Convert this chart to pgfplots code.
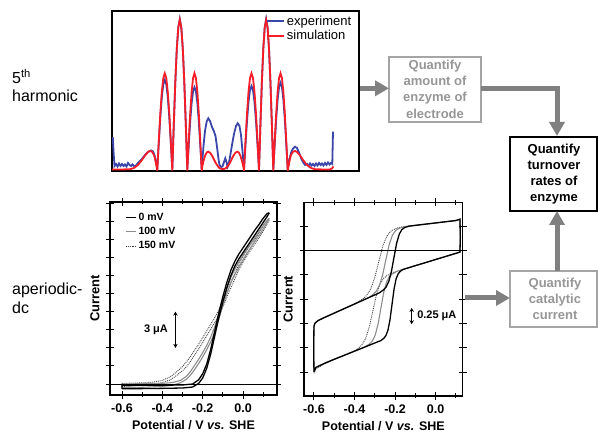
\documentclass[border=0pt]{standalone}
\usepackage{fontspec}
\setmainfont{Liberation Sans}
\usepackage{pgfplots}
\pgfplotsset{compat=1.18}
\usetikzlibrary{arrows.meta}
\definecolor{expblue}{RGB}{58,70,170}
\definecolor{simred}{RGB}{245,30,40}
\definecolor{arrowgray}{RGB}{128,128,128}
\definecolor{boxgray}{RGB}{165,165,165}
\definecolor{textgray}{RGB}{150,150,150}
\definecolor{curvegray}{RGB}{140,140,140}
\pgfplotsset{
  cvaxis/.style={
    scale only axis, anchor=south west,
    xtick={-0.6,-0.4,-0.2,0}, xticklabels={-0.6,-0.4,-0.2,0.0},
    minor xtick={-0.5,-0.3,-0.1,0.1},
    yticklabels={},
    tick align=center, major tick length=8pt, minor tick length=5pt,
    tick style={black, line width=0.9pt},
    axis line style={line width=1.1pt},
    xticklabel style={font=\bfseries\fontsize{12.5}{14}\selectfont, yshift=-1.5pt},
    xlabel={Potential / V \textit{vs.} SHE},
    xlabel style={font=\bfseries\fontsize{12.5}{15}\selectfont, at={(axis description cs:0.5,0)}, anchor=center, yshift=-30pt},
    ylabel={Current},
    ylabel style={font=\bfseries\fontsize{13}{15}\selectfont, anchor=center},
  },
  blackcv/.style={black, line width=1.3pt},
  graycv/.style={curvegray, line width=1.1pt},
  dotcv/.style={black!75, line width=0.9pt, densely dotted},
}
\begin{document}
\begin{tikzpicture}[x=1pt,y=1pt]
\useasboundingbox (0,0) rectangle (598,433);

% ---------- top: 5th harmonic ----------
\begin{axis}[at={(112pt,262pt)}, anchor=south west, scale only axis,
  width=247pt, height=160pt, xmin=0, xmax=247, ymin=0, ymax=160,
  ticks=none, axis line style={line width=1.6pt},
  legend style={draw=none, fill=none, at={(0.623,0.985)}, anchor=north west,
    font=\fontsize{13}{15}\selectfont, row sep=0pt, inner sep=0pt},
  legend cell align=left,
  legend image code/.code={\draw[#1] (0pt,0pt) -- (17pt,0pt);}]
\addplot[expblue, line width=1.8pt] coordinates {
(0.8,34) (1.5,20) (2.5,5) (4,7) (5.5,4.5) (7,7.5) (8.5,5) (10,7) (11.5,5) (13,6.5) (14.5,4.5) (16,8) (17.5,6) (19,5) (20.5,6.5) (22,5) (24,5.5) (26,8) (28,10) (30,12) (33,16) (36,19) (39,20.5) (41,19.5) (42.5,16) (44,9) (45.3,3)
(46.8,28.1) (48.3,53.5) (49.8,73.6) (51.3,86.5) (52.8,91) (54.3,86.5) (55.8,73.6) (57.3,53.5) (58.8,28.1) (60.3,2)
(61.8,46.7) (63.3,88.8) (64.8,122.2) (66.3,143.6) (67.8,152) (69.3,143.6) (70.8,122.2) (72.3,88.8) (73.8,46.7) (75.3,2)
(76.74,25.9) (78.18,49.2) (79.62,67.7) (81.06,79.6) (82.5,83.7) (83.94,79.6) (85.38,67.7) (86.82,49.2) (88.26,25.9) (89.7,2)
(90.5,12) (91.5,25) (93,40) (94.7,49.5) (96.3,52.7) (98,50) (100,44) (102,39.5) (103.5,35) (105,24) (106.5,12) (107.5,6) (109,4) (110.5,4.5) (112,9) (113.3,12.7) (114.5,9) (115.5,4)
(116.5,6) (118,14) (120,26) (122,37) (124,45) (125.7,47.7) (127.5,45) (129,36) (130.3,22) (131.3,10) (132,2)
(133.5,26.3) (135,50.0) (136.5,68.8) (138,80.8) (139.5,85) (141,80.8) (142.5,68.8) (144,50.0) (145.5,26.3) (147,2)
(148.43,46.7) (149.86,88.8) (151.29,122.2) (152.72,143.6) (154.15,152) (155.58,143.6) (157.01,122.2) (158.44,88.8) (159.87,46.7) (161.3,2)
(162.74,27.3) (164.18,51.9) (165.62,71.4) (167.06,84.0) (168.5,88.3) (169.94,84.0) (171.38,71.4) (172.82,51.9) (174.26,27.3) (175.7,2)
(176.5,6) (177.5,12) (179,18) (181,22.5) (183,24.3) (185,23) (187,18.5) (189,13) (191,9) (193,6) (195,7) (196.5,5) (198,7.5) (199.5,5.5) (201,7) (202.5,5) (204,7.5) (205.5,5.5) (207,8) (208.5,6) (210,7.5) (211.5,5.5) (213,8) (214.5,6) (216,8.5) (217.5,6.5) (219,8) (220.3,7) (221,39.3)
};
\addlegendentry{experiment}
\addplot[simred, line width=1.8pt] coordinates {
(0,1.5) (10,1.5) (18,1.8) (22,3) (26,6) (30,11) (33,15.5) (36,19) (38,20) (40,19.3) (42,16) (43.5,10) (44.6,4) (45.3,0.5)
(46.8,30.2) (48.3,57.4) (49.8,79.0) (51.3,92.9) (52.8,97.7) (54.3,92.9) (55.8,79.0) (57.3,57.4) (58.8,30.2) (60.3,0.5)
(61.8,46.7) (63.3,88.8) (64.8,122.2) (66.3,143.6) (67.8,151) (69.3,143.6) (70.8,122.2) (72.3,88.8) (73.8,46.7) (75.3,0.5)
(76.74,30.2) (78.18,57.4) (79.62,79.0) (81.06,92.9) (82.5,97.7) (83.94,92.9) (85.38,79.0) (86.82,57.4) (88.26,30.2) (89.7,0.5)
(90.4,5) (91.5,10) (93,15) (94.7,18.5) (96.3,19.3) (98,18.3) (100,15.5) (102,11.5) (104,7.5) (106,4.5) (108,2.5) (111,1.8)
(113.5,2.5) (115.5,4.5) (117.5,7.5) (119.5,11.5) (121.5,15.5) (123.5,18.3) (125.2,19.3) (126.8,18.5) (128.5,15) (130,10) (131.2,5) (132,0.5)
(133.5,30.2) (135,57.4) (136.5,79.0) (138,92.9) (139.5,97.7) (141,92.9) (142.5,79.0) (144,57.4) (145.5,30.2) (147,0.5)
(148.43,46.7) (149.86,88.8) (151.29,122.2) (152.72,143.6) (154.15,151) (155.58,143.6) (157.01,122.2) (158.44,88.8) (159.87,46.7) (161.3,0.5)
(162.74,30.2) (164.18,57.4) (165.62,79.0) (167.06,92.9) (168.5,97.7) (169.94,92.9) (171.38,79.0) (172.82,57.4) (174.26,30.2) (175.7,0.5)
(176.4,4) (177.5,10) (179,16) (181,19.3) (183,20) (185,19) (188,15.5) (191,11) (195,6) (199,3) (203,1.8) (212,1.5) (218,1.5) (220,2.5) (221.5,4.5)
};
\addlegendentry{simulation}
\end{axis}

% ---------- bottom left: aperiodic dc, catalytic ----------
\begin{axis}[cvaxis, at={(110pt,38pt)}, width=167pt, height=193pt,
  xmin=-0.6595, xmax=0.1685, ymin=-0.91, ymax=15.1,
  ytick={0,1.5,...,15},
  ylabel style={at={(axis description cs:-0.09,0.5)}},
  reverse legend,
  legend style={draw=none, fill=none, at={(0.09,0.955)}, anchor=north west,
    font=\bfseries\fontsize{10.5}{12}\selectfont, row sep=1.5pt, inner sep=0pt},
  legend cell align=left,
  legend image code/.code={\draw[#1] (0pt,0pt) -- (10pt,0pt);}]
\addplot[dotcv] coordinates {
(-0.6,-0.2) (-0.5,-0.12) (-0.45,-0.02) (-0.4,0.12) (-0.36,0.35) (-0.33,0.7) (-0.3,1.1) (-0.28,1.45) (-0.26,1.9) (-0.24,2.4) (-0.22,2.9) (-0.2,3.45) (-0.18,4.0) (-0.16,4.55) (-0.14,5.1) (-0.12,5.7) (-0.1,6.4) (-0.08,7.2) (-0.06,8.0) (-0.04,8.75) (-0.02,9.5) (0,10.1) (0.02,10.65) (0.04,11.15) (0.06,11.65) (0.08,12.15) (0.1,12.7) (0.12,13.3) (0.13,13.6)};
\addlegendentry{150 mV}
\addplot[dotcv, forget plot] coordinates {
(0.13,13.6) (0.12,13.5) (0.1,13.05) (0.08,12.55) (0.06,12.05) (0.04,11.6) (0.02,11.1) (0,10.55) (-0.02,9.95) (-0.04,9.2) (-0.06,8.45) (-0.08,7.65) (-0.1,6.85) (-0.12,6.15) (-0.14,5.5) (-0.16,4.95) (-0.18,4.4) (-0.2,3.85) (-0.22,3.3) (-0.24,2.8) (-0.26,2.3) (-0.28,1.85) (-0.3,1.45) (-0.33,1.0) (-0.36,0.6) (-0.4,0.3) (-0.45,0.15) (-0.5,0.1) (-0.6,0.05) (-0.6,-0.2)};
\addplot[graycv] coordinates {
(-0.6,-0.3) (-0.5,-0.27) (-0.4,-0.2) (-0.35,-0.1) (-0.31,0.1) (-0.28,0.4) (-0.26,0.75) (-0.24,1.2) (-0.22,1.7) (-0.2,2.25) (-0.18,2.85) (-0.16,3.5) (-0.14,4.3) (-0.12,5.4) (-0.1,6.5) (-0.08,7.5) (-0.06,8.4) (-0.04,9.1) (-0.02,9.7) (0,10.3) (0.02,10.85) (0.04,11.35) (0.06,11.85) (0.08,12.35) (0.1,12.85) (0.12,13.4) (0.13,13.75)};
\addlegendentry{100 mV}
\addplot[graycv, forget plot] coordinates {
(0.13,13.75) (0.12,13.6) (0.1,13.15) (0.08,12.65) (0.06,12.15) (0.04,11.7) (0.02,11.2) (0,10.7) (-0.02,10.15) (-0.04,9.55) (-0.06,8.85) (-0.08,7.95) (-0.1,6.95) (-0.12,5.85) (-0.14,4.75) (-0.16,3.9) (-0.18,3.2) (-0.2,2.6) (-0.22,2.05) (-0.24,1.55) (-0.26,1.05) (-0.28,0.65) (-0.31,0.3) (-0.35,0.12) (-0.4,0.05) (-0.5,0.03) (-0.6,0.0) (-0.6,-0.3)};
\addplot[blackcv] coordinates {
(-0.6,-0.4) (-0.5,-0.38) (-0.4,-0.36) (-0.3,-0.33) (-0.25,-0.25) (-0.22,0.05) (-0.2,0.5) (-0.18,1.3) (-0.16,2.5) (-0.14,4.0) (-0.12,5.5) (-0.1,6.8) (-0.08,8.0) (-0.06,9.0) (-0.04,9.8) (-0.02,10.4) (0,10.9) (0.02,11.4) (0.04,11.9) (0.06,12.4) (0.08,12.9) (0.1,13.4) (0.12,13.9) (0.13,14.2)};
\addlegendentry{0 mV}
\addplot[blackcv, forget plot] coordinates {
(0.13,14.2) (0.12,14.15) (0.1,13.75) (0.08,13.25) (0.06,12.8) (0.04,12.3) (0.02,11.8) (0,11.3) (-0.02,10.8) (-0.04,10.2) (-0.06,9.45) (-0.08,8.45) (-0.1,7.25) (-0.12,5.9) (-0.14,4.4) (-0.16,2.9) (-0.18,1.65) (-0.2,0.85) (-0.22,0.35) (-0.25,0.0) (-0.3,-0.08) (-0.4,-0.1) (-0.5,-0.1) (-0.6,-0.12) (-0.6,-0.4)};
\draw[line width=0.9pt] (axis cs:-0.6595,0) -- (axis cs:0.1685,0);
\draw[{Stealth[length=4pt,width=4.5pt]}-{Stealth[length=4pt,width=4.5pt]}, line width=0.9pt] (axis cs:-0.335,3) -- (axis cs:-0.335,6);
\node[anchor=east, font=\bfseries\fontsize{11}{13}\selectfont] at (axis cs:-0.355,4.5) {3 μA};
\end{axis}

% ---------- bottom right: aperiodic dc, non-catalytic ----------
\begin{axis}[cvaxis, at={(304pt,37pt)}, width=158.7pt, height=193.7pt,
  xmin=-0.649, xmax=0.1335, ymin=-2.24, ymax=0.74,
  ytick={0.375,0,-0.375,-0.75,-1.125,-1.5,-1.875},
  ylabel style={at={(axis description cs:-0.1,0.5)}}]
\addplot[dotcv] coordinates {
(-0.6,-1.89) (-0.59,-1.82) (-0.55,-1.75) (-0.5,-1.68) (-0.45,-1.615) (-0.4,-1.55) (-0.382,-1.509) (-0.364,-1.457) (-0.346,-1.362) (-0.328,-1.189) (-0.31,-0.936) (-0.292,-0.686) (-0.274,-0.519) (-0.256,-0.430) (-0.238,-0.384) (-0.21,-0.34) (-0.19,-0.321) (-0.16,-0.292) (-0.13,-0.264) (-0.1,-0.235) (-0.05,-0.188) (0,-0.14) (0.05,-0.093) (0.1,-0.045) (0.12,-0.026)
(0.122,0.2) (0.12,0.48)
(0.1,0.461) (0.05,0.442) (0,0.422) (-0.05,0.404) (-0.1,0.385) (-0.15,0.367) (-0.18,0.355) (-0.2,0.332) (-0.22,0.298) (-0.24,0.222) (-0.26,0.069) (-0.28,-0.169) (-0.30,-0.417) (-0.32,-0.592) (-0.34,-0.692) (-0.36,-0.750) (-0.4,-0.825) (-0.45,-0.895) (-0.5,-0.965) (-0.55,-1.035) (-0.58,-1.08) (-0.595,-1.12) (-0.6,-1.17)};
\addplot[graycv] coordinates {
(-0.6,-1.87) (-0.59,-1.80) (-0.55,-1.74) (-0.5,-1.675) (-0.45,-1.613) (-0.4,-1.55) (-0.35,-1.488) (-0.326,-1.439) (-0.312,-1.393) (-0.298,-1.304) (-0.284,-1.137) (-0.27,-0.892) (-0.256,-0.649) (-0.242,-0.487) (-0.228,-0.403) (-0.214,-0.362) (-0.19,-0.321) (-0.16,-0.292) (-0.13,-0.264) (-0.1,-0.235) (-0.05,-0.188) (0,-0.14) (0.05,-0.093) (0.1,-0.045) (0.12,-0.026)
(0.122,0.2) (0.12,0.48)
(0.1,0.461) (0.05,0.442) (0,0.422) (-0.05,0.404) (-0.1,0.385) (-0.15,0.367) (-0.181,0.339) (-0.197,0.307) (-0.213,0.235) (-0.229,0.089) (-0.245,-0.138) (-0.261,-0.374) (-0.277,-0.537) (-0.293,-0.629) (-0.309,-0.680) (-0.33,-0.727) (-0.36,-0.769) (-0.4,-0.825) (-0.45,-0.895) (-0.5,-0.965) (-0.55,-1.035) (-0.58,-1.08) (-0.595,-1.12) (-0.6,-1.17) (-0.601,-1.5) (-0.6,-1.87)};
\addplot[blackcv] coordinates {
(-0.6,-1.87) (-0.59,-1.80) (-0.55,-1.74) (-0.5,-1.675) (-0.45,-1.613) (-0.4,-1.55) (-0.35,-1.488) (-0.3,-1.425) (-0.27,-1.388) (-0.255,-1.351) (-0.245,-1.310) (-0.235,-1.227) (-0.225,-1.068) (-0.215,-0.832) (-0.205,-0.596) (-0.195,-0.441) (-0.185,-0.361) (-0.175,-0.324) (-0.16,-0.292) (-0.13,-0.264) (-0.1,-0.235) (-0.05,-0.188) (0,-0.14) (0.05,-0.093) (0.1,-0.045) (0.12,-0.026)
(0.122,0.2) (0.12,0.48)
(0.1,0.459) (0.05,0.441) (0,0.422) (-0.05,0.404) (-0.1,0.385) (-0.13,0.374) (-0.153,0.351) (-0.166,0.321) (-0.179,0.252) (-0.192,0.113) (-0.205,-0.103) (-0.218,-0.325) (-0.231,-0.479) (-0.244,-0.563) (-0.257,-0.608) (-0.28,-0.657) (-0.3,-0.685) (-0.35,-0.755) (-0.4,-0.825) (-0.45,-0.895) (-0.5,-0.965) (-0.55,-1.035) (-0.58,-1.08) (-0.595,-1.12) (-0.6,-1.17) (-0.601,-1.5) (-0.6,-1.87)};
\draw[line width=0.9pt] (axis cs:-0.649,0) -- (axis cs:0.1335,0);
\draw[{Stealth[length=4pt,width=4.5pt]}-{Stealth[length=4pt,width=4.5pt]}, line width=0.9pt] (axis cs:-0.118,-0.885) -- (axis cs:-0.118,-1.135);
\node[anchor=west, font=\bfseries\fontsize{11}{13}\selectfont] at (axis cs:-0.108,-1.01) {0.25 μA};
\end{axis}

% ---------- side labels ----------
\node[anchor=base west, inner sep=0, font=\fontsize{16}{19}\selectfont] at (12,349) {5\textsuperscript{th}};
\node[anchor=base west, inner sep=0, font=\fontsize{16}{19}\selectfont] at (12,331.3) {harmonic};
\node[anchor=base west, inner sep=0, font=\fontsize{16}{19}\selectfont] at (12,138.7) {aperiodic-};
\node[anchor=base west, inner sep=0, font=\fontsize{16}{19}\selectfont] at (12,119) {dc};

% ---------- flow boxes ----------
\draw[boxgray, line width=1.3pt] (389,311) rectangle (481,376);
\node[align=center, text=textgray, font=\bfseries\fontsize{13}{16.4}\selectfont] at (435,344) {Quantify\\amount of\\enzyme of\\electrode};
\draw[black, line width=1.6pt] (510,222) rectangle (597,296);
\node[align=center, font=\bfseries\fontsize{13}{16.2}\selectfont] at (554,259) {Quantify\\turnover\\rates of\\enzyme};
\draw[boxgray, line width=1.3pt] (510,106) rectangle (597,162);
\node[align=center, text=textgray, font=\bfseries\fontsize{13}{16.2}\selectfont] at (555,134) {Quantify\\catalytic\\current};

% ---------- arrows ----------
\draw[arrowgray, line width=5pt, -{Triangle[width=15pt,length=14pt]}] (360,344.7) -- (389,344.7);
\draw[arrowgray, line width=5pt, -{Triangle[width=15pt,length=14pt]}] (481,344.7) -- (557,344.7) -- (557,297);
\draw[arrowgray, line width=5pt, -{Triangle[width=15pt,length=14pt]}] (557,162) -- (557,222);
\draw[arrowgray, line width=5pt, -{Triangle[width=15pt,length=14pt]}] (465,135) -- (510,135);
\end{tikzpicture}
\end{document}
